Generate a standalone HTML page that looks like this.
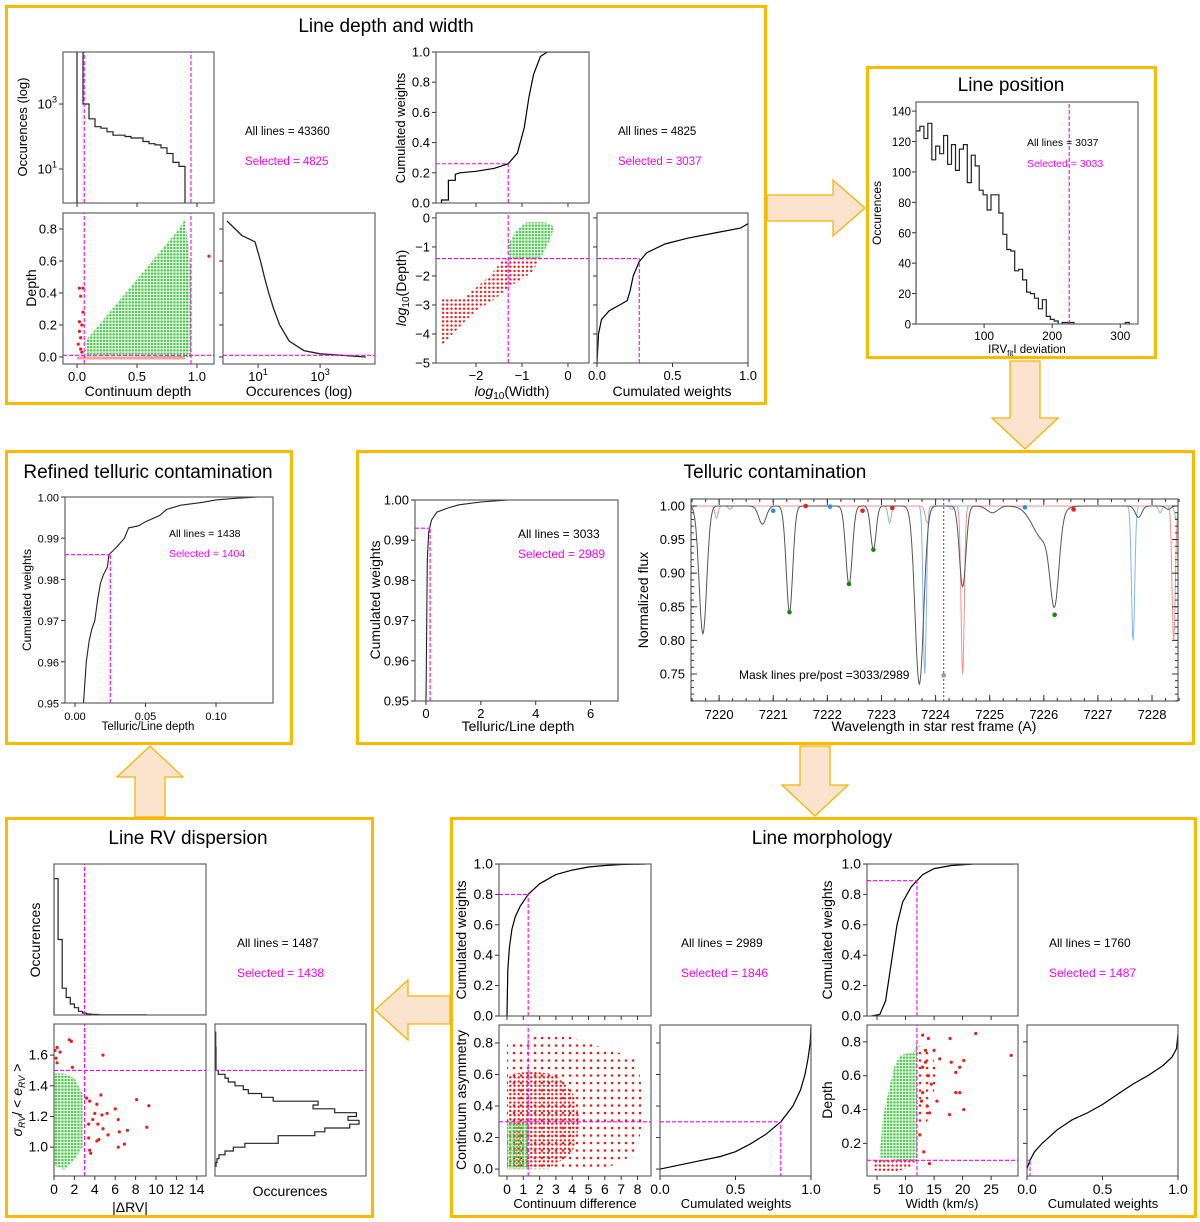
<!DOCTYPE html>
<html><head><meta charset="utf-8"><style>
html,body{margin:0;padding:0;background:#fff}
svg{display:block;font-family:"Liberation Sans",sans-serif}
</style></head><body>
<svg id="fig" xmlns="http://www.w3.org/2000/svg" width="1200" height="1222" viewBox="0 0 1200 1222">
<defs>
<pattern id="gdots" width="3.2" height="3.2" patternUnits="userSpaceOnUse"><circle cx="1.6" cy="1.6" r="1.25" fill="#45cc45"/></pattern>
<pattern id="rdots" width="4.2" height="4.2" patternUnits="userSpaceOnUse"><circle cx="2.1" cy="2.1" r="1.2" fill="#f01c1c"/></pattern>
<pattern id="rsparse" width="7" height="7.5" patternUnits="userSpaceOnUse"><circle cx="3" cy="3" r="1.3" fill="#f01c1c"/></pattern>
<pattern id="gsparse" width="6" height="6" patternUnits="userSpaceOnUse"><circle cx="3" cy="3" r="1.3" fill="#45cc45"/></pattern>
</defs>
</svg>
<script>
// ---------------- data ----------------
const p1aEdges=[-0.05,0,0.05,0.1,0.15,0.2,0.25,0.3,0.35,0.4,0.45,0.5,0.55,0.6,0.65,0.7,0.75,0.8,0.85,0.9,0.95,1.0];
const p1aCounts=[0,50000,1000,350,200,180,140,110,110,100,90,90,70,60,55,45,30,16,12,0,0];
const p1cOcc=[1,3,8,12,16,22,32,50,100,300,1000,30000];
const p1cDepth=[0.85,0.76,0.72,0.6,0.5,0.4,0.3,0.2,0.1,0.04,0.02,0.0];
const p1bGreenX=[0.07,0.95,0.95,0.9,0.85,0.07];
const p1bGreenY=[0.01,0.0,0.55,0.86,0.8,0.1];
const p1bRedX=[0.02,0.05,0.03,0.02,0.04,0.03,0.01,0.03,0.04,1.1,0.02,0.05];
const p1bRedY=[0.43,0.43,0.38,0.22,0.2,0.12,0.08,0.05,0.03,0.63,0.16,0.28];
const p1dW=[-2.75,-2.75,-2.6,-2.6,-2.45,-2.45,-2.35,-2,-1.6,-1.3,-1.1,-0.95,-0.85,-0.75,-0.6,-0.45,0.45];
const p1dC=[0,0.02,0.02,0.15,0.15,0.19,0.2,0.21,0.23,0.26,0.33,0.5,0.7,0.85,0.97,1,1];
const p1eGreenX=[-1.3,-1.3,-1.1,-0.9,-0.5,-0.3,-0.4,-0.6];
const p1eGreenY=[-1.4,-0.9,-0.4,-0.15,-0.15,-0.3,-0.8,-1.4];
const p1eRedX=[-1.4,-0.6,-0.8,-1.2,-1.6,-2.0,-2.2,-2.75,-2.75,-2.3,-1.7];
const p1eRedY=[-1.4,-1.4,-1.9,-2.3,-2.8,-3.2,-3.5,-4.4,-2.8,-2.8,-2.0];
const p1fW=[0,0.01,0.03,0.08,0.15,0.2,0.22,0.24,0.28,0.33,0.45,0.6,0.8,0.95,1.0];
const p1fD=[-5,-4,-3.5,-3.2,-3.0,-2.85,-2.5,-2.0,-1.5,-1.2,-0.9,-0.7,-0.5,-0.35,-0.2];
const lpCounts=[127,130,122,132,108,117,112,124,105,118,101,115,118,93,111,104,88,85,75,85,85,73,59,49,48,35,36,29,21,20,17,10,16,5,3,2,0,1,1,1,0,0,0,0,0,0,0,0,0,0,0,0,0,1,0];
const lpBin=5.8;
const rtX=[0.006,0.008,0.01,0.012,0.014,0.016,0.018,0.02,0.023,0.024,0.027,0.03,0.035,0.038,0.045,0.05,0.06,0.065,0.075,0.09,0.1,0.115,0.13];
const rtY=[0.95,0.96,0.965,0.968,0.97,0.975,0.979,0.981,0.983,0.986,0.987,0.988,0.990,0.9925,0.993,0.994,0.9955,0.997,0.998,0.9987,0.9993,0.9997,1.0];
const tlX=[0,0.05,0.1,0.2,0.4,0.8,1.2,2,3,5.5];
const tlY=[0.95,0.985,0.992,0.995,0.997,0.998,0.9988,0.9995,1.0,1.0];
const stellarC=[7219.7,7220.8,7221.3,7222.4,7222.85,7223.7,7224.5,7225.05,7226.2,7226.0,7227.75,7228.3];
const stellarD=[0.19,0.027,0.158,0.117,0.065,0.265,0.12,0.01,0.12,0.05,0.017,0.005];
const stellarS=[0.07,0.07,0.06,0.06,0.05,0.08,0.06,0.1,0.08,0.2,0.06,0.05];
const blueC=[7220.2,7223.15,7223.8,7224.3,7227.65,7228.15,7228.45];
const blueD=[0.005,0.025,0.25,0.005,0.2,0.01,0.02];
const blueS=[0.03,0.03,0.03,0.03,0.03,0.03,0.03];
const redC=[7219.4,7219.95,7223.85,7224.5,7228.4];
const redD=[0.03,0.018,0.025,0.25,0.2];
const redS=[0.05,0.03,0.04,0.03,0.03];
const dotBlueX=[7221.0,7222.05,7225.65], dotBlueY=[0.993,0.999,0.998];
const dotRedX=[7221.6,7222.65,7223.2,7226.55], dotRedY=[1.0,0.993,0.997,0.995];
const dotGreenX=[7221.3,7222.4,7222.85,7226.2], dotGreenY=[0.842,0.884,0.935,0.838];
const rvEdges=[0,0.4,0.8,1.2,1.6,2.0,2.4,2.8,3.2,3.6,4.0,4.4,4.8,5.2,5.6,6,7,8,9];
const rvCounts=[560,310,110,72,45,30,15,8,4,3,2,1,1,1,1,1,1,1];
const rvGreenX=[0,0,1,2,2.8,2.8,2,1,0.5];
const rvGreenY=[0.88,1.48,1.48,1.45,1.35,1.0,0.92,0.85,0.87];
const rvRedX=[0.3,0.1,0.6,1.5,1.7,0.2,0.3,1.8,4.8,3.2,3.5,4.2,4.6,4.0,4.7,5.2,6.0,8.1,9.3,3.4,3.8,4.3,4.8,6.3,9.1,6.4,7.2,4.4,5.3,3.4,4.2,6.3,6.9,3.5,3.6];
const rvRedY=[1.65,1.63,1.62,1.7,1.69,1.58,1.55,1.52,1.6,1.32,1.3,1.28,1.34,1.22,1.21,1.22,1.25,1.31,1.27,1.15,1.18,1.15,1.12,1.18,1.13,1.1,1.11,1.05,1.08,1.06,1.04,1.0,1.02,0.98,0.96];
const rvhEdges=[0.875,0.9,0.925,0.95,0.975,1.0,1.025,1.05,1.075,1.1,1.125,1.15,1.175,1.2,1.225,1.25,1.275,1.3,1.325,1.35,1.375,1.4,1.425,1.45,1.475,1.5,1.525,1.55,1.575,1.6,1.625,1.65,1.675,1.7,1.725,1.75];
const rvhCounts=[3,6,12,30,55,90,190,190,300,330,405,433,400,425,360,295,310,175,140,100,85,60,40,30,10,3,3,3,3,3,3,2,2,2,2];
const mlX=[0,0.05,0.15,0.3,0.5,0.8,1.3,2,3,4,5,6,7,8.5];
const mlC=[0,0.3,0.45,0.57,0.65,0.72,0.8,0.87,0.93,0.96,0.98,0.99,0.997,1.0];
const mlRedX=[0,0,1,3,5,8,8.4,8,6,3];
const mlRedY=[0,0.8,0.82,0.87,0.8,0.7,0.4,0.1,0.0,0.0];
const mlRedDenseX=[0,0,1.5,3,4,4.5,4,2.5,1.3];
const mlRedDenseY=[0,0.6,0.62,0.6,0.5,0.3,0.1,0.0,0.0];
const mlGreenX=[0,1.3,1.3,0];
const mlGreenY=[0,0,0.3,0.3];
const mlcW=[0,0.1,0.25,0.4,0.5,0.6,0.7,0.8,0.88,0.93,0.96,0.98,0.995,1.0];
const mlcA=[0.0,0.02,0.05,0.08,0.11,0.16,0.22,0.3,0.4,0.5,0.6,0.7,0.8,0.9];
const mrX=[4,5.5,6.5,7.5,8.5,9.5,11,12,13,15,18,22,29];
const mrC=[0,0.01,0.1,0.35,0.6,0.75,0.85,0.89,0.93,0.97,0.99,1.0,1.0];
const mrGreenX=[5.5,6,7,8,9,11.5,12,12,9,5];
const mrGreenY=[0.12,0.35,0.5,0.65,0.72,0.74,0.8,0.1,0.1,0.12];
const mrRedLowX=[4.5,4.5,12,11,8];
const mrRedLowY=[0.04,0.1,0.1,0.06,0.03];
const mrRedCloudX=[12,12,14.5,15.5,14.5,13.5];
const mrRedCloudY=[0.3,0.78,0.75,0.62,0.4,0.3];
const mrRedX=[13,14,17.8,22.3,28.5,13.5,15,16,18,20.2,19.5,18.8,14,15.5,17.7,18.8,19.5,20.2,13,14.2,12.5,13.2,14.2,13,14.5,13.5,12.8,13.8];
const mrRedY=[0.84,0.82,0.82,0.85,0.72,0.75,0.75,0.7,0.68,0.69,0.65,0.62,0.6,0.45,0.37,0.5,0.5,0.4,0.5,0.38,0.25,0.15,0.08,0.65,0.55,0.68,0.45,0.42];
const mrcW=[0,0.02,0.05,0.1,0.2,0.3,0.4,0.5,0.6,0.7,0.8,0.9,0.96,0.99,1.0];
const mrcD=[0.05,0.1,0.15,0.2,0.28,0.34,0.38,0.43,0.49,0.55,0.6,0.66,0.71,0.76,0.85];

// --------------- helpers ---------------
const NS='http://www.w3.org/2000/svg';
const svg=document.getElementById('fig');
const MAG='#ff00ff';
let clipId=0;
function el(tag,attrs,name,parent){
  const e=document.createElementNS(NS,tag);
  for(const k in attrs)e.setAttribute(k,attrs[k]);
  
  
  (parent||svg).appendChild(e);return e;
}
function txt(x,y,s,name,o){
  o=o||{};
  const t=el('text',{x:x,y:y,'font-size':o.size||13,fill:o.fill||'#000','text-anchor':o.anchor||'start'},name,o.parent);
  if(o.rot)t.setAttribute('transform','rotate(-90 '+x+' '+y+')');
  if(s.indexOf('^')>=0){
    const p=s.split('^');
    const a=document.createElementNS(NS,'tspan');a.textContent=p[0];t.appendChild(a);
    const b=document.createElementNS(NS,'tspan');b.textContent=p[1];b.setAttribute('font-size',(o.size||13)*0.7);b.setAttribute('dy','-6');t.appendChild(b);
  } else t.textContent=s;
  return t;
}
function axes(name,x0,y0,x1,y1,xd,yd,xlog,ylog){
  const g=el('g',{},name);
  const X=v=>{const t=xlog?Math.log10(Math.max(v,1e-9)):v;return x0+(t-xd[0])/(xd[1]-xd[0])*(x1-x0)};
  const Y=v=>{const t=ylog?Math.log10(Math.max(v,1e-9)):v;return y1-(t-yd[0])/(yd[1]-yd[0])*(y1-y0)};
  clipId++;
  const cp=el('clipPath',{id:'cp'+clipId},name+'-clip',g);
  el('rect',{x:x0,y:y0,width:x1-x0,height:y1-y0},name+'-clip-rect',cp);
  const d=el('g',{'clip-path':'url(#cp'+clipId+')'},name+'-data',g);
  return {g,d,X,Y,x0,y0,x1,y1,name};
}
function frame(a){el('rect',{x:a.x0,y:a.y0,width:a.x1-a.x0,height:a.y1-a.y0,fill:'none',stroke:'#555','stroke-width':1.1},a.name+'-frame',a.g);}
function xt(a,vals,labels,opt){
  opt=opt||{};const len=opt.len||4,inside=opt.inside;
  vals.forEach((v,i)=>{const x=a.X(v);
    el('line',{x1:x,x2:x,y1:a.y1,y2:inside?a.y1-len:a.y1+len,stroke:'#333'},a.name+'-xtick',a.g);
    if(opt.top)el('line',{x1:x,x2:x,y1:a.y0,y2:a.y0+len,stroke:'#333'},a.name+'-xtick-top',a.g);
    if(labels)txt(x,a.y1+(opt.dy||17),labels[i],a.name+'-xtick-label',{anchor:'middle',size:opt.size||13,parent:a.g});
  });
}
function yt(a,vals,labels,opt){
  opt=opt||{};const len=opt.len||4,inside=opt.inside;
  vals.forEach((v,i)=>{const y=a.Y(v);
    el('line',{x1:a.x0,x2:inside?a.x0+len:a.x0-len,y1:y,y2:y,stroke:'#333'},a.name+'-ytick',a.g);
    if(opt.right)el('line',{x1:a.x1,x2:a.x1-len,y1:y,y2:y,stroke:'#333'},a.name+'-ytick-right',a.g);
    if(labels)txt(a.x0-(opt.dx||6),y+4.5,labels[i],a.name+'-ytick-label',{anchor:'end',size:opt.size||13,parent:a.g});
  });
}
function line(a,xs,ys,name,stroke,w,dash){
  const p=xs.map((x,i)=>(i?'L':'M')+a.X(x).toFixed(1)+','+a.Y(ys[i]).toFixed(1)).join('');
  const e=el('path',{d:p,fill:'none',stroke:stroke||'#000','stroke-width':w||1.2},name,a.d);
  if(dash)e.setAttribute('stroke-dasharray',dash);return e;
}
function poly(a,xs,ys,name,fill){
  const p=xs.map((x,i)=>a.X(x).toFixed(1)+','+a.Y(ys[i]).toFixed(1)).join(' ');
  return el('polygon',{points:p,fill:fill},name,a.d);
}
function dots(a,xs,ys,name,fill,r){
  xs.forEach((x,i)=>{el('circle',{cx:a.X(x),cy:a.Y(ys[i]),r:r||1.6,fill:fill},name,a.d);});
}
function vmag(a,x,yfrom,yto){const y1=yfrom===undefined?a.y1:a.Y(yfrom),y0=yto===undefined?a.y0:a.Y(yto);
  el('line',{x1:a.X(x),x2:a.X(x),y1:y1,y2:y0,stroke:MAG,'stroke-width':1.1,'stroke-dasharray':'4,2'},a.name+'-cut-vertical',a.d);}
function hmag(a,y,xfrom,xto){const x0=xfrom===undefined?a.x0:a.X(xfrom),x1=xto===undefined?a.x1:a.X(xto);
  el('line',{x1:x0,x2:x1,y1:a.Y(y),y2:a.Y(y),stroke:MAG,'stroke-width':1.1,'stroke-dasharray':'4,2'},a.name+'-cut-horizontal',a.d);}
function histV(a,edges,counts,name){
  let p='M'+a.X(edges[0])+','+a.y1;
  counts.forEach((c,i)=>{const y=c>0?a.Y(c):a.y1+2;p+='V'+y.toFixed(1)+'H'+a.X(edges[i+1]).toFixed(1);});
  p+='V'+a.y1;
  el('path',{d:p,fill:'none',stroke:'#222','stroke-width':1.2},name,a.d);
}
function histH(a,edges,counts,name){
  let p='M'+a.x0+','+a.Y(edges[0]);
  counts.forEach((c,i)=>{p+='H'+a.X(c).toFixed(1)+'V'+a.Y(edges[i+1]).toFixed(1);});
  p+='H'+a.x0;
  el('path',{d:p,fill:'none',stroke:'#222','stroke-width':1.2},name,a.d);
}
function arrowPoly(pts,name){el('polygon',{points:pts,fill:'#fbe3cd',stroke:'#f7b500','stroke-width':1.3},name);}

// --------------- boxes & arrows ---------------
[[6.5,6.5,759,397,'panel-line-depth-width'],[867.5,67.5,288,290,'panel-line-position'],[6.5,451.5,285,292,'panel-refined-telluric'],[357.5,451.5,836,292,'panel-telluric-contamination'],[6.5,818.5,366,398,'panel-line-rv-dispersion'],[451.5,818.5,744,398,'panel-line-morphology']].forEach(b=>{
  el('rect',{x:b[0],y:b[1],width:b[2],height:b[3],fill:'none',stroke:'#fbb900','stroke-width':3},b[4]);
});
arrowPoly('767,195 833,195 833,180 865,208 833,236 833,221 767,221','arrow-to-line-position');
arrowPoly('1010,361 1040,361 1040,418 1058,418 1025,449 992,418 1010,418','arrow-to-telluric');
arrowPoly('800,746 830,746 830,785 848,785 815,816 782,785 800,785','arrow-to-morphology');
arrowPoly('450,996 408,996 408,980 375,1010 408,1040 408,1024 450,1024','arrow-to-rv-dispersion');
arrowPoly('135,817 165,817 165,777 183,777 150,746 117,777 135,777','arrow-to-refined-telluric');

txt(386,32,'Line depth and width','title-line-depth-width',{anchor:'middle',size:19});
txt(1011,91,'Line position','title-line-position',{anchor:'middle',size:19});
txt(148,478,'Refined telluric contamination','title-refined-telluric',{anchor:'middle',size:19});
txt(775,478,'Telluric contamination','title-telluric',{anchor:'middle',size:19});
txt(188,844,'Line RV dispersion','title-rv-dispersion',{anchor:'middle',size:19});
txt(822,844,'Line morphology','title-morphology',{anchor:'middle',size:19});

// --------------- Panel 1 ---------------
let a;
a=axes('continuum-hist',63,52,214,203,[-0.117,1.142],[-0.046,4.6],false,true);
histV(a,p1aEdges,p1aCounts,'continuum-hist-steps');
vmag(a,0.06);vmag(a,0.95);frame(a);
xt(a,[0,0.5,1.0],null);yt(a,[10,1000],['10^1','10^3']);
txt(27,127,'Occurences (log)','continuum-hist-ylabel',{anchor:'middle',rot:1});

a=axes('depth-scatter',63,213,214,364,[-0.117,1.142],[-0.044,0.9]);
el('rect',{x:a.X(0),y:a.Y(0.003),width:a.X(0.9)-a.X(0),height:3,fill:'#f7a0a0'},'red-baseline-points',a.d);
poly(a,p1bGreenX,p1bGreenY,'selected-lines-cloud','url(#gdots)');
dots(a,p1bRedX,p1bRedY,'rejected-line-point','#f01c1c');
vmag(a,0.06);vmag(a,0.95);hmag(a,0.01);frame(a);
xt(a,[0,0.5,1.0],['0.0','0.5','1.0']);yt(a,[0,0.2,0.4,0.6,0.8],['0.0','0.2','0.4','0.6','0.8']);
txt(36,288,'Depth','depth-ylabel',{anchor:'middle',rot:1,size:14});
txt(138,396,'Continuum depth','continuum-depth-xlabel',{anchor:'middle',size:14});

a=axes('depth-hist',223,213,375,364,[-0.13,4.77],[-0.044,0.9],true,false);
line(a,p1cOcc,p1cDepth,'depth-hist-curve','#222',1.3);
hmag(a,0.01);frame(a);
xt(a,[10,1000],['10^1','10^3']);yt(a,[0,0.2,0.4,0.6,0.8],null);
txt(299,396,'Occurences (log)','occurences-xlabel',{anchor:'middle',size:14});
txt(245,135,'All lines = 43360','all-lines-43360',{size:11.5});
txt(245,165,'Selected = 4825','selected-4825',{size:11.5,fill:MAG});

a=axes('width-cumulative',436,52,589,203,[-2.87,0.457],[0,1]);
line(a,p1dW,p1dC,'width-cumulative-curve');
hmag(a,0.26,undefined,-1.3);vmag(a,-1.3,0,0.26);frame(a);
xt(a,[-2,-1,0],null);yt(a,[0,0.2,0.4,0.6,0.8,1.0],['0.0','0.2','0.4','0.6','0.8','1.0']);
txt(405,128,'Cumulated weights','cum-weights-ylabel-1',{anchor:'middle',rot:1});

a=axes('logdepth-logwidth-scatter',436,213,589,363,[-2.87,0.457],[-5.0,0.17]);
poly(a,p1eRedX,p1eRedY,'rejected-lines-cloud','url(#rdots)');
poly(a,p1eGreenX,p1eGreenY,'selected-lines-cloud','url(#gdots)');
vmag(a,-1.3);hmag(a,-1.4);frame(a);
xt(a,[-2,-1,0],['\u22122','\u22121','0']);yt(a,[0,-1,-2,-3,-4,-5],['0','\u22121','\u22122','\u22123','\u22124','\u22125']);
(function(){const t=txt(406,288,'','logdepth-ylabel',{anchor:'middle',rot:1,size:14});t.innerHTML='<tspan font-style="italic">log</tspan><tspan font-size="10" dy="3">10</tspan><tspan dy="-3">(Depth)</tspan>';
const u=txt(512,396,'','logwidth-xlabel',{anchor:'middle',size:14});u.innerHTML='<tspan font-style="italic">log</tspan><tspan font-size="10" dy="3">10</tspan><tspan dy="-3">(Width)</tspan>';})();

a=axes('logdepth-cumulative',597,213,748,363,[0,1],[-5.0,0.17]);
line(a,p1fW,p1fD,'logdepth-cumulative-curve');
hmag(a,-1.4,undefined,0.28);vmag(a,0.28,-5,-1.4);frame(a);
xt(a,[0,0.5,1],['0.0','0.5','1.0']);yt(a,[0,-1,-2,-3,-4,-5],null);
txt(672,396,'Cumulated weights','cum-weights-xlabel-1',{anchor:'middle',size:14});
txt(618,135,'All lines = 4825','all-lines-4825',{size:11.5});
txt(618,165,'Selected = 3037','selected-3037',{size:11.5,fill:MAG});

// --------------- Line position ---------------
a=axes('rv-deviation-hist',916,102,1138,324,[0,326],[0,146]);
const lpEdges=lpCounts.map((c,i)=>i*lpBin);lpEdges.push(lpCounts.length*lpBin);
histV(a,lpEdges,lpCounts,'rv-deviation-hist-steps');
vmag(a,225);frame(a);
xt(a,[100,200,300],['100','200','300'],{size:12,dy:16});yt(a,[0,20,40,60,80,100,120,140],['0','20','40','60','80','100','120','140'],{size:11.5,dx:5});
txt(881,213,'Occurences','occurences-ylabel-lp',{anchor:'middle',rot:1,size:12});
(function(){const t=txt(1027,353,'','rv-fit-xlabel',{anchor:'middle',size:11.5});t.innerHTML='IRV<tspan font-size="8" dy="3">fit</tspan><tspan dy="-3">I deviation</tspan>';})();
txt(1027,146,'All lines = 3037','all-lines-3037',{size:10.5});
txt(1027,167,'Selected = 3033','selected-3033',{size:10.5,fill:MAG});

// --------------- Refined telluric ---------------
a=axes('refined-telluric-cumulative',65,497,273,703,[-0.0071,0.1404],[0.95,1.0]);
line(a,rtX,rtY,'refined-telluric-curve','#222',1.1);
hmag(a,0.986,undefined,0.025);vmag(a,0.025,0.95,0.986);frame(a);
xt(a,[0,0.05,0.1],['0.00','0.05','0.10'],{size:11});yt(a,[0.95,0.96,0.97,0.98,0.99,1.0],['0.95','0.96','0.97','0.98','0.99','1.00'],{size:11});
txt(31,600,'Cumulated weights','cum-weights-ylabel-rt',{anchor:'middle',rot:1,size:12});
txt(148,730,'Telluric/Line depth','telluric-ratio-xlabel-rt',{anchor:'middle',size:11.5});
txt(169,537,'All lines = 1438','all-lines-1438',{size:10.5});
txt(169,557,'Selected = 1404','selected-1404',{size:10.5,fill:MAG});

// --------------- Telluric ---------------
a=axes('telluric-cumulative',415,500,618,701,[-0.4,7.0],[0.95,1.0]);
line(a,tlX,tlY,'telluric-curve','#222',1.1);
hmag(a,0.993,undefined,0.15);vmag(a,0.15,0.95,0.993);frame(a);
xt(a,[0,2,4,6],['0','2','4','6']);yt(a,[0.95,0.96,0.97,0.98,0.99,1.0],['0.95','0.96','0.97','0.98','0.99','1.00']);
txt(380,600,'Cumulated weights','cum-weights-ylabel-tel',{anchor:'middle',rot:1,size:14});
txt(518,731,'Telluric/Line depth','telluric-ratio-xlabel',{anchor:'middle',size:14});
txt(518,538,'All lines = 3033','all-lines-3033',{size:12});
txt(518,558,'Selected = 2989','selected-2989',{size:12,fill:MAG});

a=axes('spectrum',691,499,1178,701,[7219.48,7228.48],[0.7098,1.0104]);
function model(C,D,S,w){let f=1;for(let i=0;i<C.length;i++)f-=D[i]*Math.exp(-0.5*Math.pow((w-C[i])/S[i],2));return f;}
const wl=[];for(let w=7219.45;w<=7228.5;w+=0.01)wl.push(w);
line(a,wl,wl.map(w=>model(blueC,blueD,blueS,w)),'telluric-spectrum-blue','#7fb8ee',1);
line(a,wl,wl.map(w=>model(redC,redD,redS,w)),'shifted-spectrum-red','#f49090',1);
line(a,wl,wl.map(w=>model(stellarC,stellarD,stellarS,w)),'stellar-spectrum','#555',1);
el('line',{x1:a.X(7224.15),x2:a.X(7224.15),y1:a.y0,y2:a.y1,stroke:'#555','stroke-dasharray':'2,2'},'mask-center-dotted',a.d);
dots(a,dotBlueX,dotBlueY,'blue-line-marker','#2a8ff0',2.3);
dots(a,dotRedX,dotRedY,'red-line-marker','#f01c1c',2.3);
dots(a,dotGreenX,dotGreenY,'green-line-marker','#138a13',2.3);
dots(a,[7224.15],[0.748],'grey-line-marker','#999',2.3);
frame(a);
const minX=[];for(let w=7219.5;w<=7228.5;w+=0.25)minX.push(w);
xt(a,minX,null,{len:3,inside:1,top:1});
xt(a,[7220,7221,7222,7223,7224,7225,7226,7227,7228],['7220','7221','7222','7223','7224','7225','7226','7227','7228'],{len:6,inside:1,top:1,dy:18});
const minY=[];for(let v=0.71;v<=1.01;v+=0.01)minY.push(v);
yt(a,minY,null,{len:3,inside:1,right:1});
yt(a,[0.75,0.8,0.85,0.9,0.95,1.0],['0.75','0.80','0.85','0.90','0.95','1.00'],{len:6,inside:1,right:1});
txt(648,600,'Normalized flux','normalized-flux-ylabel',{anchor:'middle',rot:1,size:14});
txt(934,731,'Wavelength in star rest frame (A)','wavelength-xlabel',{anchor:'middle',size:14});
txt(739,679,'Mask lines pre/post =3033/2989','mask-lines-annotation',{size:12});

// --------------- RV dispersion ---------------
a=axes('delta-rv-hist',54,864,206,1015,[0,14.9],[0,620]);
histV(a,rvEdges,rvCounts,'delta-rv-hist-steps');
vmag(a,3);frame(a);
txt(40,940,'Occurences','occurences-ylabel-rv',{anchor:'middle',rot:1,size:14});
txt(237,947,'All lines = 1487','all-lines-1487',{size:12});
txt(237,977,'Selected = 1438','selected-1438',{size:12,fill:MAG});

a=axes('rv-scatter',54,1024,206,1176,[0,14.9],[0.812,1.803]);
poly(a,rvGreenX,rvGreenY,'selected-lines-cloud','url(#gdots)');
dots(a,rvRedX,rvRedY,'rejected-line-point','#f01c1c');
vmag(a,3);hmag(a,1.5);frame(a);
xt(a,[0,2,4,6,8,10,12,14],['0','2','4','6','8','10','12','14'],{size:14,dy:18});
yt(a,[1.0,1.2,1.4,1.6],['1.0','1.2','1.4','1.6'],{size:14});
(function(){const t=txt(22,1100,'','sigma-rv-ylabel',{anchor:'middle',rot:1,size:14});t.innerHTML='<tspan font-style="italic">σ</tspan><tspan font-size="9" dy="3" font-style="italic">RV</tspan><tspan dy="-3">/ &lt; </tspan><tspan font-style="italic">e</tspan><tspan font-size="9" dy="3" font-style="italic">RV</tspan><tspan dy="-3"> &gt;</tspan>';})();
txt(130,1212,'|ΔRV|','delta-rv-xlabel',{anchor:'middle',size:14});

a=axes('sigma-hist',215,1024,366,1176,[0,454],[0.812,1.803]);
histH(a,rvhEdges,rvhCounts,'sigma-hist-steps');
hmag(a,1.5);frame(a);
txt(290,1196,'Occurences','occurences-xlabel-rv',{anchor:'middle',size:14});

// --------------- Morphology ---------------
a=axes('cont-diff-cumulative',499,864,651,1016,[-0.49,8.83],[0,1]);
line(a,mlX,mlC,'cont-diff-cumulative-curve');
hmag(a,0.8,undefined,1.3);vmag(a,1.3,0,0.8);frame(a);
xt(a,[0,1,2,3,4,5,6,7,8],null);yt(a,[0,0.2,0.4,0.6,0.8,1.0],['0.0','0.2','0.4','0.6','0.8','1.0'],{size:14});
txt(466,940,'Cumulated weights','cum-weights-ylabel-ml',{anchor:'middle',rot:1,size:14});
txt(681,947,'All lines = 2989','all-lines-2989',{size:12});
txt(681,977,'Selected = 1846','selected-1846',{size:12,fill:MAG});

a=axes('asymmetry-scatter',499,1025,651,1176,[-0.49,8.83],[-0.044,0.914]);
poly(a,mlRedX,mlRedY,'rejected-lines-sparse','url(#rsparse)');
poly(a,mlRedDenseX,mlRedDenseY,'rejected-lines-cloud','url(#rdots)');
poly(a,mlGreenX,mlGreenY,'selected-lines-cloud','url(#gdots)');
vmag(a,1.3);hmag(a,0.3);frame(a);
xt(a,[0,1,2,3,4,5,6,7,8],['0','1','2','3','4','5','6','7','8'],{size:14,dy:18});
yt(a,[0,0.2,0.4,0.6,0.8],['0.0','0.2','0.4','0.6','0.8'],{size:14});
txt(466,1100,'Continuum asymmetry','asymmetry-ylabel',{anchor:'middle',rot:1,size:14});
txt(575,1208,'Continuum difference','cont-diff-xlabel',{anchor:'middle',size:13});

a=axes('asymmetry-cumulative',660,1025,811,1176,[0,1],[-0.044,0.914]);
line(a,mlcW,mlcA,'asymmetry-cumulative-curve');
hmag(a,0.3,undefined,0.8);vmag(a,0.8,-0.05,0.3);frame(a);
xt(a,[0,0.5,1],['0.0','0.5','1.0'],{size:14,dy:18});yt(a,[0,0.2,0.4,0.6,0.8],null);
txt(736,1208,'Cumulated weights','cum-weights-xlabel-ml',{anchor:'middle',size:13});

a=axes('width-cumulative-kms',867,864,1018,1016,[3.25,29.7],[0,1]);
line(a,mrX,mrC,'width-kms-cumulative-curve');
hmag(a,0.89,undefined,12);vmag(a,12,0,0.89);frame(a);
xt(a,[5,10,15,20,25],null);yt(a,[0,0.2,0.4,0.6,0.8,1.0],['0.0','0.2','0.4','0.6','0.8','1.0'],{size:14});
txt(832,940,'Cumulated weights','cum-weights-ylabel-mr',{anchor:'middle',rot:1,size:14});
txt(1049,947,'All lines = 1760','all-lines-1760',{size:12});
txt(1049,977,'Selected = 1487','selected-1487',{size:12,fill:MAG});

a=axes('width-depth-scatter',867,1025,1018,1176,[3.25,29.7],[0.007,0.9]);
poly(a,mrGreenX,mrGreenY,'selected-lines-cloud','url(#gdots)');
poly(a,mrRedLowX,mrRedLowY,'rejected-shallow-cloud','url(#rdots)');
poly(a,mrRedCloudX,mrRedCloudY,'rejected-wide-cloud','url(#rsparse)');
dots(a,mrRedX,mrRedY,'rejected-line-point','#f01c1c');
vmag(a,12);hmag(a,0.1);frame(a);
xt(a,[5,10,15,20,25],['5','10','15','20','25'],{size:14,dy:18});
yt(a,[0.2,0.4,0.6,0.8],['0.2','0.4','0.6','0.8'],{size:14});
txt(832,1100,'Depth','depth-ylabel-mr',{anchor:'middle',rot:1,size:14});
txt(942,1208,'Width (km/s)','width-kms-xlabel',{anchor:'middle',size:13});

a=axes('depth-cumulative-mr',1027,1025,1178,1176,[0,1],[0.007,0.9]);
line(a,mrcW,mrcD,'depth-cumulative-curve');
hmag(a,0.1,undefined,0.02);vmag(a,0.02,0,0.1);frame(a);
xt(a,[0,0.5,1],['0.0','0.5','1.0'],{size:14,dy:18});yt(a,[0.2,0.4,0.6,0.8],null);
txt(1103,1208,'Cumulated weights','cum-weights-xlabel-mr',{anchor:'middle',size:13});
</script>
</body></html>
